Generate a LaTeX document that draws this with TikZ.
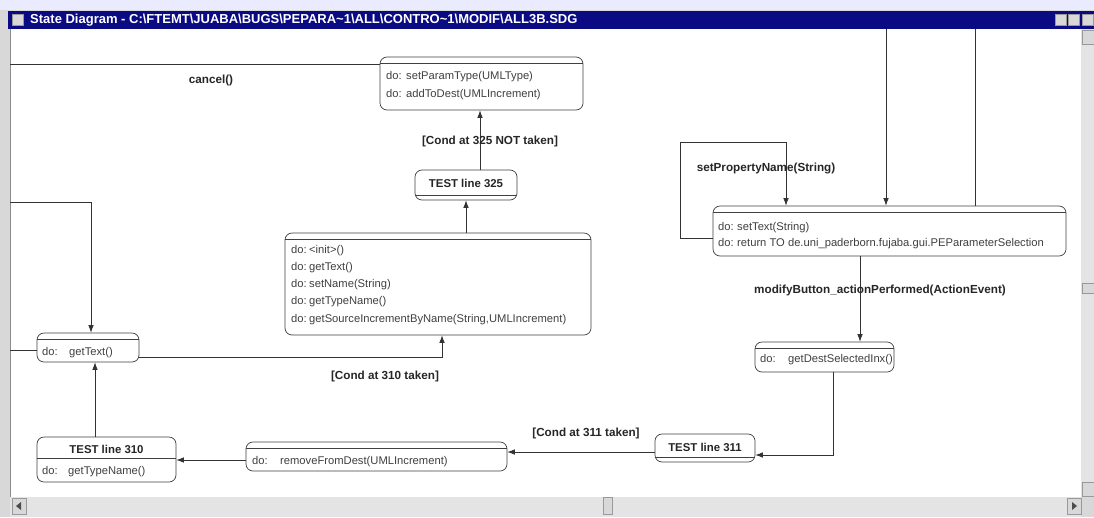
\documentclass[tikz,border=0pt]{standalone}
\usepackage{fontspec}
\setmainfont{Liberation Sans}
\usetikzlibrary{arrows.meta,calc}
\definecolor{navy}{HTML}{0A0A82}
\definecolor{chrome}{HTML}{D8D8D8}
\definecolor{sbar}{HTML}{E4E4E4}
\tikzset{
  sbox/.style={draw=black!75, line width=0.7pt, rounded corners=7pt, inner sep=0pt, fill=white},
  txt/.style={font=\fontsize{11.2}{13}\selectfont, inner sep=0pt, anchor=base west, text=black!75},
  ttl/.style={font=\fontsize{11.4}{13}\selectfont\bfseries, inner sep=0pt, text=black!85},
  lbl/.style={font=\fontsize{11.7}{13}\selectfont\bfseries, inner sep=0pt, text=black!85},
  conn/.style={draw=black!80, line width=0.7pt},
  arr/.style={conn, -{Latex[length=7.5pt,width=5.5pt]}},
  sepline/.style={draw=black!75, line width=0.6pt},
  btn/.style={fill=chrome, draw=black!40, line width=0.4pt},
}
\begin{document}
\begin{tikzpicture}[x=1pt,y=-1pt]
\useasboundingbox (0,0) rectangle (1094,517);
% window chrome
\fill[chrome] (0,0) rectangle (1094,517);
\fill[white!92!blue] (0,0) rectangle (1094,10);
\fill[navy] (8,11) rectangle (1094,29);
\node[btn, minimum width=11pt, minimum height=11pt, inner sep=0pt] (icon) at (18,20) {};
\node[anchor=west, inner sep=0pt, text=white, font=\fontsize{13}{14}\selectfont\bfseries] (title) at (30,20)
  {State Diagram - C:\textbackslash FTEMT\textbackslash JUABA\textbackslash BUGS\textbackslash PEPARA\textasciitilde 1\textbackslash ALL\textbackslash CONTRO\textasciitilde 1\textbackslash MODIF\textbackslash ALL3B.SDG};
\node[btn, minimum width=11pt, minimum height=11pt, inner sep=0pt] (bmin) at (1061,20) {};
\node[btn, minimum width=11pt, minimum height=11pt, inner sep=0pt] (bmax) at (1074,20) {};
\node[btn, minimum width=11pt, minimum height=11pt, inner sep=0pt] (bcls) at (1088,20) {};
\fill[white] (10,29) rectangle (1081,497);
\draw[black!45, line width=0.8pt] (10,29) -- (10,497);
\fill[sbar] (10,497) rectangle (1081,517);
\fill[sbar] (1081,29) rectangle (1094,497);
\node[btn, minimum width=14pt, minimum height=16pt, inner sep=0pt] (sbl) at (19,506) {};
\fill[black!70] (16,506) -- (21,502) -- (21,510) -- cycle;
\node[btn, minimum width=14pt, minimum height=16pt, inner sep=0pt] (sbr) at (1074,506) {};
\fill[black!70] (1077,506) -- (1072,502) -- (1072,510) -- cycle;
\node[btn, minimum width=9pt, minimum height=17pt, inner sep=0pt] (sbt) at (608,506) {};
\node[btn, minimum width=12pt, minimum height=14pt, inner sep=0pt] (svu) at (1088,37) {};
\node[btn, minimum width=12pt, minimum height=10pt, inner sep=0pt] (svt) at (1088,288) {};
\node[btn, minimum width=12pt, minimum height=14pt, inner sep=0pt] (svd) at (1088,489) {};

% state boxes
\node[sbox, minimum width=203pt, minimum height=53pt] (b1) at (481.5,83.5) {};
\node[sbox, minimum width=102pt, minimum height=30pt] (t325) at (466,185) {};
\node[sbox, minimum width=306pt, minimum height=102pt] (b3) at (438,284) {};
\node[sbox, minimum width=102pt, minimum height=29pt] (b4) at (88,347.5) {};
\node[sbox, minimum width=139pt, minimum height=45pt] (t310) at (106.5,459.5) {};
\node[sbox, minimum width=261pt, minimum height=29pt] (b6) at (376.5,456.5) {};
\node[sbox, minimum width=100pt, minimum height=28pt] (t311) at (705,448) {};
\node[sbox, minimum width=139pt, minimum height=30pt] (b8) at (824.5,357) {};
\node[sbox, minimum width=353pt, minimum height=50pt] (b9) at (889.5,231) {};

% compartment separators
\draw[sepline] ([yshift=-7pt]b1.north west) -- ([yshift=-7pt]b1.north east);
\draw[sepline] ([yshift=5pt]t325.south west) -- ([yshift=5pt]t325.south east);
\draw[sepline] ([yshift=-7pt]b3.north west) -- ([yshift=-7pt]b3.north east);
\draw[sepline] ([yshift=-7pt]b4.north west) -- ([yshift=-7pt]b4.north east);
\draw[sepline] ([yshift=-22pt]t310.north west) -- ([yshift=-22pt]t310.north east);
\draw[sepline] ([yshift=-7pt]b6.north west) -- ([yshift=-7pt]b6.north east);
\draw[sepline] ([yshift=5pt]t311.south west) -- ([yshift=5pt]t311.south east);
\draw[sepline] ([yshift=-7pt]b8.north west) -- ([yshift=-7pt]b8.north east);
\draw[sepline] ([yshift=-7pt]b9.north west) -- ([yshift=-7pt]b9.north east);

% texts in boxes (baseline positions)
\node[txt] (b1d1) at (386,79) {do:};
\node[txt] (b1m1) at (406,79) {setParamType(UMLType)};
\node[txt] (b1d2) at (386,97) {do:};
\node[txt] (b1m2) at (406,97) {addToDest(UMLIncrement)};
\node[ttl] (t325t) at (466,183) {TEST line 325};
\node[txt] (b3d1) at (291,253) {do:};
\node[txt] (b3m1) at (309,253) {<init>()};
\node[txt] (b3d2) at (291,270) {do:};
\node[txt] (b3m2) at (309,270) {getText()};
\node[txt] (b3d3) at (291,287) {do:};
\node[txt] (b3m3) at (309,287) {setName(String)};
\node[txt] (b3d4) at (291,304) {do:};
\node[txt] (b3m4) at (309,304) {getTypeName()};
\node[txt] (b3d5) at (291,322) {do:};
\node[txt] (b3m5) at (309,322) {getSourceIncrementByName(String,UMLIncrement)};
\node[txt] (b4d1) at (42,355) {do:};
\node[txt] (b4m1) at (69,355) {getText()};
\node[ttl] (t310t) at (106.5,449) {TEST line 310};
\node[txt] (t310d) at (42,474) {do:};
\node[txt] (t310m) at (68,474) {getTypeName()};
\node[txt] (b6d1) at (252,464) {do:};
\node[txt] (b6m1) at (280,464) {removeFromDest(UMLIncrement)};
\node[ttl] (t311t) at (705,447) {TEST line 311};
\node[txt] (b8d1) at (760,362) {do:};
\node[txt] (b8m1) at (788,362) {getDestSelectedInx()};
\node[txt] (b9d1) at (718,230) {do:};
\node[txt] (b9m1) at (737,230) {setText(String)};
\node[txt] (b9d2) at (718,246) {do:};
\node[txt] (b9m2) at (737,246) {return TO de.uni\_paderborn.fujaba.gui.PEParameterSelection};

% free ends
\coordinate (L0) at (10,64);
\coordinate (L1) at (10,202);
\coordinate (L2) at (10,350);
\coordinate (T1) at (886,29);
\coordinate (T2) at (975,29);
\coordinate (LP) at (680,142);

% connectors
\draw[conn] (L0) -- (L0 -| b1.west);
\draw[arr] ([xshift=14pt]t325.north) -- ([xshift=14pt]t325.north |- b1.south);
\draw[arr] (b3.north -| t325.south) -- (t325.south);
\draw[arr] (L1) -| ([xshift=3pt]b4.north);
\draw[conn] (L2) -- (L2 -| b4.west);
\draw[arr] ([yshift=-10pt]b4.east) -| ([xshift=4pt]b3.south);
\draw[arr] ([xshift=-11.5pt]t310.north) -- ([xshift=-11.5pt]t310.north |- b4.south);
\draw[arr] ([yshift=-3.5pt]b6.west) -- ([yshift=-3.5pt]b6.west -| t310.east);
\draw[arr] ([yshift=-4pt]t311.west) -- ([yshift=-4pt]t311.west -| b6.east);
\draw[arr] ([xshift=8.5pt]b8.south) |- ([yshift=-7pt]t311.east);
\draw[arr] ([xshift=-29.5pt]b9.south) -- ([xshift=-29.5pt]b9.south |- b8.north);
\draw[arr] (T1) -- (T1 |- b9.north);
\draw[conn] (T2) -- (T2 |- b9.north);
\draw[arr] ([yshift=-7pt]b9.west) -| (LP) -| ([xshift=-103.5pt]b9.north);

% transition labels
\node[lbl] (lcancel) at (211,80) {cancel()};
\node[lbl] (l325) at (490,141) {[Cond at 325 NOT taken]};
\node[lbl] (l310) at (385,376) {[Cond at 310 taken]};
\node[lbl] (l311) at (586,433) {[Cond at 311 taken]};
\node[lbl] (lmod) at (880,290) {modifyButton\_actionPerformed(ActionEvent)};
\node[lbl] (lspn) at (766,168) {setPropertyName(String)};
\end{tikzpicture}
\end{document}
